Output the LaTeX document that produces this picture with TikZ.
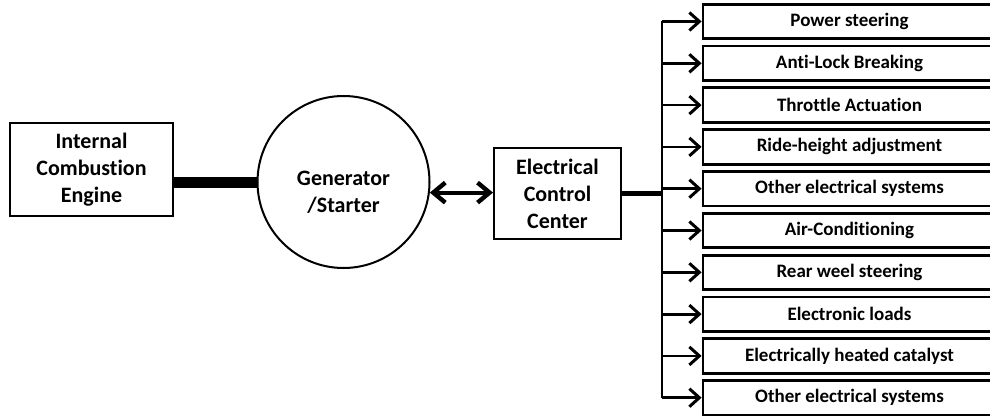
\documentclass[tikz,border=0pt]{standalone}
\usepackage{fontspec}
\setmainfont[Ligatures={NoCommon}]{Carlito}
\usetikzlibrary{arrows.meta,calc}
\tikzset{
  box/.style={draw,line width=1pt,inner sep=0pt,align=center,font=\fontsize{11}{13.5}\selectfont\bfseries},
  load/.style={draw,line width=1.4pt,inner sep=0pt,minimum width=146.5pt,minimum height=17.2pt,font=\fontsize{9.5}{11}\selectfont\bfseries},
  feed/.style={line width=1.4pt,-{Straight Barb[length=5pt,width=9pt,line width=1.5pt]}},
  bus/.style={line width=1.4pt},
}
\begin{document}
\begin{tikzpicture}[x=0.5pt,y=-0.5pt]
\useasboundingbox (0,0) rectangle (990,417);
\begin{scope}
\clip (0,0) rectangle (990,417);
\node[box,minimum width=81.5pt,minimum height=46.5pt] (ice) at (91.5,169.5) {Internal\\Combustion\\Engine};
\node[draw,circle,line width=1pt,minimum size=86pt,inner sep=0pt] (gen) at (343.5,182) {};
\node[font=\fontsize{11}{13.5}\selectfont\bfseries,align=center] (gtext) at (343.5,192) {Generator\\/Starter};
\node[box,minimum width=63.5pt,minimum height=45.5pt] (ecc) at (557.5,193.5) {Electrical\\Control\\Center};
\draw[line width=5.5pt] (ice.east |- gen.center) -- (gen.west);
\draw[line width=2pt,{Straight Barb[length=6pt,width=10pt,line width=2.2pt]}-{Straight Barb[length=6pt,width=10pt,line width=2.2pt]}] (gen.-7) -- (gen.-7 -| ecc.west);
\foreach \t [count=\i from 0] in {Power steering,Anti-Lock Breaking,Throttle Actuation,Ride-height adjustment,Other electrical systems,Air-Conditioning,Rear weel steering,Electronic loads,Electrically heated catalyst,Other electrical systems}{
  \node[load] (l\i) at (849.5,{21.5+41.8*\i}) {\t};
  \coordinate (b\i) at (662,{21.5+41.8*\i});
  \draw[feed] (b\i) -- (l\i.west);
}
\coordinate (bj) at (662,193.5);
\draw[bus] ($(b0)+(0,-0.7)$) -- ($(b9)+(0,0.7)$);
\draw[line width=2.8pt] (ecc.east) -- (bj);
\end{scope}
\end{tikzpicture}
\end{document}
